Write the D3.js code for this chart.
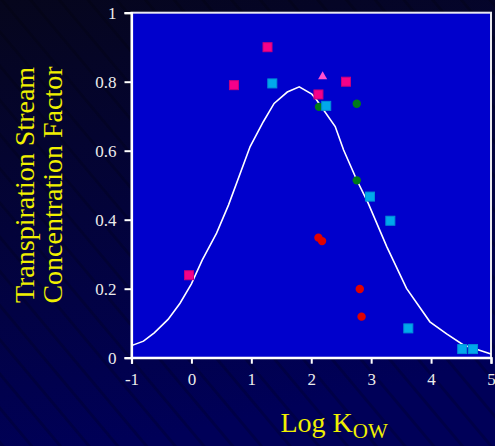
<!DOCTYPE html>
<html><head><meta charset="utf-8">
<script src="https://cdn.jsdelivr.net/npm/d3@7"></script>
<style>html,body{margin:0;padding:0;background:#000033;}svg{display:block;}</style>
</head><body>
<svg id="c" width="495" height="446"></svg>
<script>
// ---- data ----
const xTicks = [-1, 0, 1, 2, 3, 4, 5];
const yTicks = [0, 0.2, 0.4, 0.6, 0.8, 1];
const yTickLabels = ["0", "0.2", "0.4", "0.6", "0.8", "1"];

const curveX = [-1.0, -0.8, -0.62, -0.39, -0.19, 0.0, 0.18, 0.42, 0.62, 0.98, 1.2, 1.38, 1.6, 1.8, 2.01, 2.09, 2.4, 2.54, 2.76, 2.95, 3.26, 3.59, 3.98, 4.26, 4.54, 5.0];
const curveY = [0.035, 0.048, 0.072, 0.111, 0.158, 0.214, 0.283, 0.361, 0.443, 0.612, 0.684, 0.737, 0.770, 0.785, 0.764, 0.747, 0.670, 0.602, 0.515, 0.448, 0.322, 0.201, 0.104, 0.069, 0.037, 0.011];

const magentaX = [-0.04, 0.71, 1.27, 2.12, 2.58];
const magentaY = [0.239, 0.79, 0.90, 0.763, 0.80];
const cyanX = [1.35, 2.25, 2.98, 3.32, 3.62, 4.52, 4.70];
const cyanY = [0.795, 0.73, 0.467, 0.397, 0.085, 0.025, 0.025];
const greenX = [2.13, 2.76, 2.76];
const greenY = [0.727, 0.736, 0.514];
const redX = [2.12, 2.18, 2.81, 2.84];
const redY = [0.348, 0.338, 0.199, 0.119];
const triX = [2.19];
const triY = [0.812];

// ---- drawing ----
const svg = d3.select("#c");
const W = 495, H = 446;
const defs = svg.append("defs");
const g = defs.append("linearGradient").attr("id","bg").attr("x1",0).attr("y1",0).attr("x2",0.25).attr("y2",1);
g.append("stop").attr("offset","0%").attr("stop-color","#06061c");
g.append("stop").attr("offset","100%").attr("stop-color","#000058");
const pat = defs.append("pattern").attr("id","stripes").attr("width",22).attr("height",22)
  .attr("patternUnits","userSpaceOnUse").attr("patternTransform","rotate(-40)");
pat.append("rect").attr("width",3).attr("height",22).attr("fill","#000000").attr("opacity",0.18);

svg.append("rect").attr("width",W).attr("height",H).attr("fill","url(#bg)");
svg.append("rect").attr("width",W).attr("height",H).attr("fill","url(#stripes)");

const x = d3.scaleLinear().domain([-1, 5]).range([131.5, 491]);
const y = d3.scaleLinear().domain([0, 1]).range([357.7, 12.7]);

// plot area
svg.append("rect").attr("x", x(-1)).attr("y", y(1)).attr("width", x(5)-x(-1)).attr("height", y(0)-y(1))
  .attr("fill","#0000cc").attr("stroke","#e8e8f0").attr("stroke-width",2);

// curve
const curvePts = curveX.map((d,i)=>[d, curveY[i]]);
svg.append("path").datum(curvePts)
  .attr("d", d3.line().x(d=>x(d[0])).y(d=>y(d[1])))
  .attr("fill","none").attr("stroke","#ffffff").attr("stroke-width",1.6);

// axes
const font = "'Liberation Serif','Times New Roman',serif";
const yAxis = svg.append("g").attr("transform",`translate(${x(-1)},0)`)
  .call(d3.axisLeft(y).tickValues(yTicks).tickSize(7).tickPadding(8)
    .tickFormat((d,i)=>yTickLabels[i]));
const xAxis = svg.append("g").attr("transform",`translate(0,${y(0)})`)
  .call(d3.axisBottom(x).tickValues(xTicks).tickSize(6).tickPadding(9).tickFormat(d=>String(d)));
[yAxis, xAxis].forEach(a=>{
  a.select(".domain").attr("stroke","#ffffff").attr("stroke-width",2.2);
  a.selectAll(".tick line").attr("stroke","#ffffff").attr("stroke-width",2);
  a.selectAll(".tick text").attr("fill","#ececec").style("font-family",font).style("font-size","17px");
});

// points
const sq = 9;
function squares(xs, ys, fill, stroke){
  svg.append("g").selectAll("rect").data(xs.map((d,i)=>[d, ys[i]])).join("rect")
    .attr("x", d=>x(d[0])-sq/2).attr("y", d=>y(d[1])-sq/2).attr("width",sq).attr("height",sq)
    .attr("fill",fill).attr("stroke",stroke).attr("stroke-width",1);
}
function circles(xs, ys, fill){
  svg.append("g").selectAll("circle").data(xs.map((d,i)=>[d, ys[i]])).join("circle")
    .attr("cx", d=>x(d[0])).attr("cy", d=>y(d[1])).attr("r",4.2).attr("fill",fill);
}
circles(greenX, greenY, "#007a1a");
squares(magentaX, magentaY, "#f5008a", "#c8007a");
squares(cyanX, cyanY, "#00a8ec", "#0090d8");
circles(redX, redY, "#e00000");
svg.append("g").selectAll("path").data(triX.map((d,i)=>[d, triY[i]])).join("path")
  .attr("d", d3.symbol().type(d3.symbolTriangle).size(36))
  .attr("transform", d=>`translate(${x(d[0])},${y(d[1])-1})`)
  .attr("fill","#ff50d0");

// titles
const yt = svg.append("text").attr("transform","translate(33.5,185) rotate(-90)")
  .attr("text-anchor","middle").attr("fill","#f0f000").style("font-family",font).style("font-size","28px");
yt.text("Transpiration Stream");
svg.append("text").attr("transform","translate(62,185) rotate(-90)")
  .attr("text-anchor","middle").attr("fill","#f0f000").style("font-family",font).style("font-size","28px")
  .text("Concentration Factor");

const xt = svg.append("text").attr("x",280.5).attr("y",431.7).attr("fill","#f0f000")
  .style("font-family",font).style("font-size","28px");
xt.append("tspan").text("Log K");
xt.append("tspan").attr("dy",6.5).style("font-size","21px").text("OW");
</script>
</body></html>
